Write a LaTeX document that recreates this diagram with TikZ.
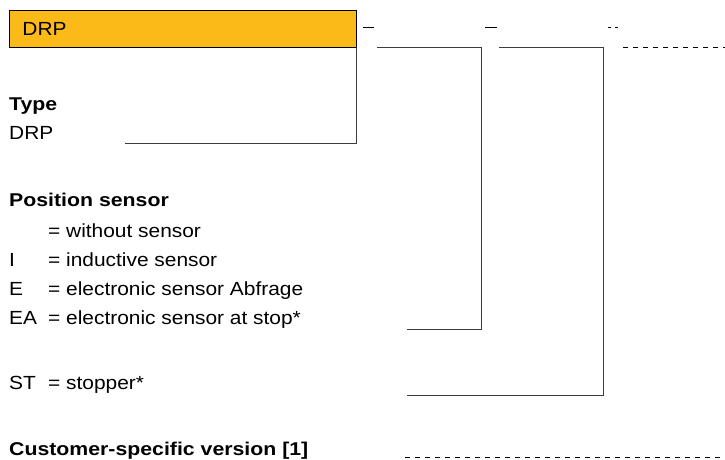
\documentclass[tikz,border=0pt]{standalone}
\usepackage{fontspec}
\setmainfont[FakeStretch=1.1]{Liberation Sans}
\newfontfamily\hbold[FakeStretch=1.15]{Liberation Sans Bold}
\definecolor{boxorange}{RGB}{252,186,24}
\definecolor{linegray}{RGB}{60,60,60}
\begin{document}
\begin{tikzpicture}[x=1pt,y=-1pt,
  txt/.style={anchor=base west,inner sep=0pt,font=\fontsize{19}{22}\selectfont},
  head/.style={anchor=base west,inner sep=0pt,font=\fontsize{18.5}{22}\selectfont\hbold},
  conn/.style={draw=linegray,line width=1pt},
  dashconn/.style={draw=black,line width=0.9pt,dash pattern=on 5pt off 5pt},
  orangebox/.style={draw=black,line width=0.9pt,fill=boxorange,anchor=north west,
    minimum width=347pt,minimum height=36.5pt,text width=321pt,inner xsep=13pt,align=left,
    font=\fontsize{19}{22}\selectfont}]
\useasboundingbox (0,0) rectangle (725,459);
% header box
\node[orangebox] (drp) at (9,10) {DRP};
% labels
\node[head] (type) at (9,110.5) {Type};
\node[txt] (typedrp) at (9,139.5) {DRP};
\node[head] (pos) at (9,206.5) {Position sensor};
\node[txt] (d0) at (48,237.5) {= without sensor};
\node[txt] (kI) at (9,266.5) {I};
\node[txt] (dI) at (48,266.5) {= inductive sensor};
\node[txt] (kE) at (9,295.5) {E};
\node[txt] (dE) at (48,295.5) {= electronic sensor Abfrage};
\node[txt] (kEA) at (9,324.5) {EA};
\node[txt] (dEA) at (48,324.5) {= electronic sensor at stop*};
\node[txt] (kST) at (9,389.5) {ST};
\node[txt] (dST) at (48,389.5) {= stopper*};
\node[head] (cust) at (9,455) {Customer-specific version [1]};
% coordinates
\coordinate (tl) at (125,143);
\coordinate (eaend) at (407,329);
\coordinate (eacorner) at (481,47);
\coordinate (eatop) at (377,47);
\coordinate (stend) at (407,395);
\coordinate (stcorner) at (603,47);
\coordinate (sttop) at (499,47);
\coordinate (cutop1) at (623,47);
\coordinate (cutop2) at (725,47);
\coordinate (cubot1) at (405,457);
\coordinate (cubot2) at (725,457);
\coordinate (m1a) at (363,27);
\coordinate (m1b) at (374,27);
\coordinate (m2a) at (485,27);
\coordinate (m2b) at (497,27);
\coordinate (m3a) at (608,27);
\coordinate (m3b) at (620,27);
% connectors
\draw[conn] (tl) -| (drp.south east);
\draw[conn] (eaend) -| (eacorner) -- (eatop);
\draw[conn] (stend) -| (stcorner) -- (sttop);
\draw[dashconn] (cutop1) -- (cutop2);
\draw[dashconn] (cubot1) -- (cubot2);
\draw[conn,draw=black] (m1a) -- (m1b);
\draw[conn,draw=black] (m2a) -- (m2b);
\draw[draw=black,line width=0.9pt,dash pattern=on 3pt off 4pt] (m3a) -- (m3b);
\end{tikzpicture}
\end{document}
